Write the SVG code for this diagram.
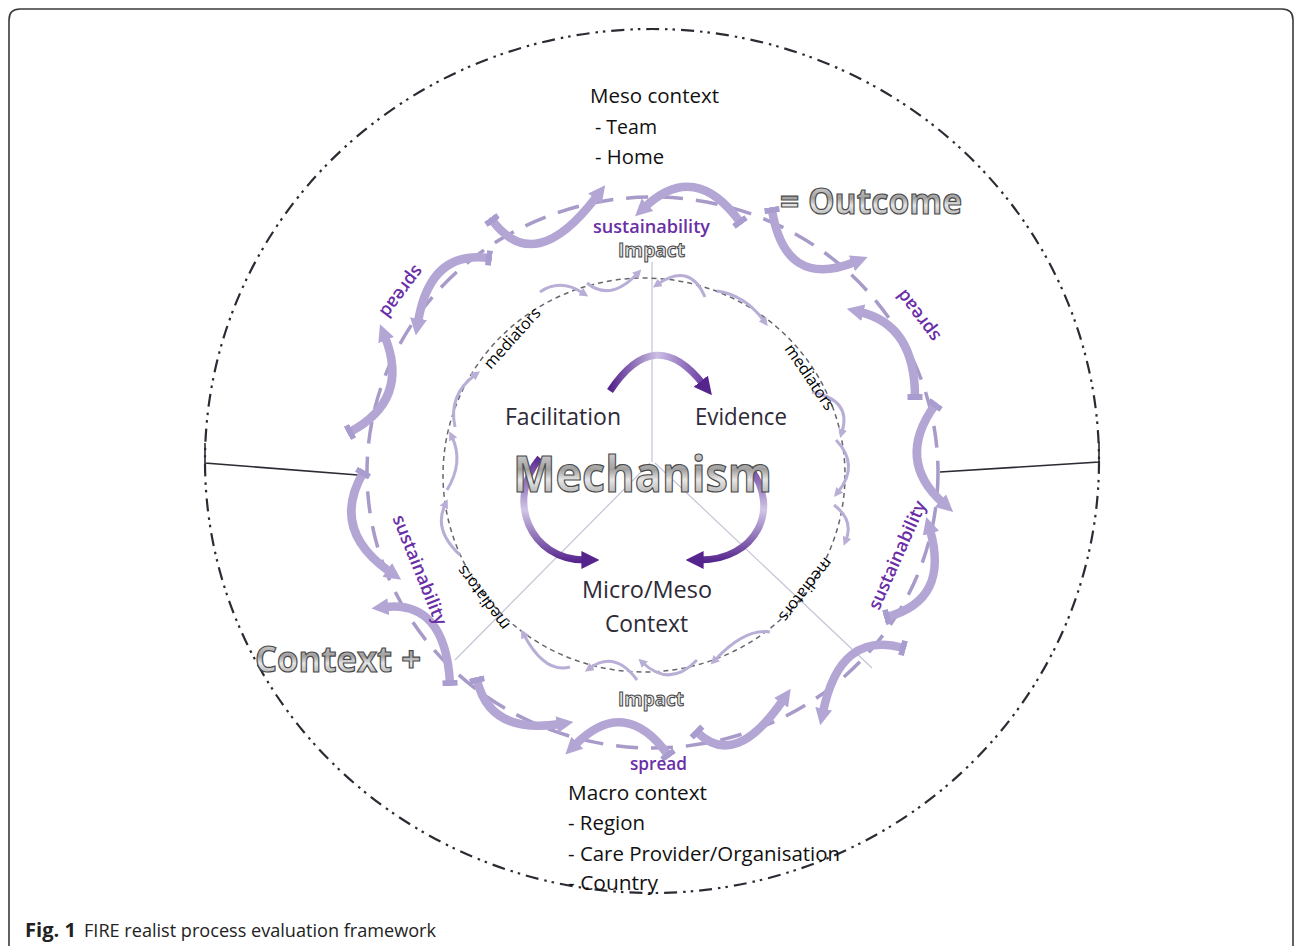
<svg xmlns="http://www.w3.org/2000/svg" width="1295" height="946" viewBox="0 0 1295 946">
<defs>
<style>
.card{fill:#fff;stroke:#3a3a3a;stroke-width:1.6}
.outer{fill:none;stroke:#2b2b33;stroke-width:2.2;stroke-dasharray:13 6 2.5 5 2.5 6}
.bar{stroke:#2b2b33;stroke-width:1.6;fill:none}
.ring{fill:none;stroke:#a89bc9;stroke-width:3.5;stroke-dasharray:22 13}
.inring{fill:none;stroke:#66666e;stroke-width:1.5;stroke-dasharray:5 4}
.big{fill:none;stroke:#b3a6d5;stroke-width:8.5;marker-end:url(#ah);marker-start:url(#tl)}
.small{fill:none;stroke:#b9afd6;stroke-width:3;marker-end:url(#sh)}
.spoke{stroke:#c4c4d6;stroke-width:1.2}
.mech{fill:none;stroke-width:7;marker-end:url(#mh)}
.lbl{font-family:"Open Sans","Noto Sans",sans-serif;fill:#2e2a38;font-size:24px}
.ctx{font-family:"Open Sans","Noto Sans",sans-serif;fill:#111;font-size:20px}
.pur{font-family:"Open Sans","Noto Sans",sans-serif;fill:#6a2ea6;font-weight:600;font-size:18px}
.med{font-family:"Open Sans","Noto Sans",sans-serif;fill:#000;font-size:16px}
.chrome{font-family:"Open Sans","Noto Sans",sans-serif;font-weight:700;fill:url(#chr);stroke:#4a4a4a;stroke-width:1.2}
.imp{font-family:"Open Sans","Noto Sans",sans-serif;font-weight:700;font-size:20px;fill:#e4e4e4;stroke:#444;stroke-width:1}
.cap{font-family:"Open Sans","Noto Sans",sans-serif;fill:#222;font-size:19px}
</style>
<marker id="ah" viewBox="0 0 10 10" refX="2" refY="5" markerWidth="17" markerHeight="17" markerUnits="userSpaceOnUse" orient="auto"><path d="M0,0 L10,5 L0,10 z" fill="#b3a6d5"/></marker>
<marker id="tl" viewBox="0 0 4 10" refX="2" refY="5" markerWidth="6" markerHeight="18" markerUnits="userSpaceOnUse" orient="auto"><rect x="0" y="0" width="4" height="10" fill="#a99cce"/></marker>
<marker id="sh" viewBox="0 0 10 10" refX="3" refY="5" markerWidth="9" markerHeight="9" markerUnits="userSpaceOnUse" orient="auto"><path d="M0,0 L10,5 L0,10 z" fill="#b9afd6"/></marker>
<marker id="mh" viewBox="0 0 10 10" refX="2" refY="5" markerWidth="18" markerHeight="18" markerUnits="userSpaceOnUse" orient="auto"><path d="M0,0 L10,5 L0,10 z" fill="#55248c"/></marker>
<linearGradient id="chr" x1="0" y1="0" x2="0" y2="1"><stop offset="0" stop-color="#f4f4f4"/><stop offset="0.45" stop-color="#a0a0a0"/><stop offset="0.6" stop-color="#e6e6e6"/><stop offset="1" stop-color="#858585"/></linearGradient>
<linearGradient id="gTop" gradientUnits="userSpaceOnUse" x1="610" y1="0" x2="705" y2="0"><stop offset="0" stop-color="#55248c"/><stop offset="0.5" stop-color="#cbbfe4"/><stop offset="1" stop-color="#6a3aa2"/></linearGradient>
<linearGradient id="gSide" gradientUnits="userSpaceOnUse" x1="0" y1="458" x2="0" y2="562"><stop offset="0" stop-color="#5c2a94"/><stop offset="0.5" stop-color="#d0c6e6"/><stop offset="1" stop-color="#55248c"/></linearGradient>
</defs>

<path class="card" d="M9,960 L9,20 Q9,9 20,9 L1282,9 Q1293,9 1293,20 L1293,960"/>

<g id="frame">
<ellipse class="outer" cx="652" cy="461" rx="447" ry="432"/>
<polyline class="bar" points="205,443 205,463 358,475"/>
<polyline class="bar" points="940,472 1099,462 1099,442"/>
</g>

<g id="spokes">
<line class="spoke" x1="652" y1="262" x2="652" y2="462"/>
<line class="spoke" x1="650" y1="463" x2="455" y2="660"/>
<line class="spoke" x1="655" y1="463" x2="872" y2="668"/>
</g>

<g id="rings">
<ellipse class="ring" cx="652.5" cy="472.5" rx="285.5" ry="275.5"/>
<ellipse class="inring" cx="644" cy="475" rx="201" ry="197"/>
</g>

<g id="connectors">
<path class="big" d="M492,220 Q535,278 597,196"/>
<path class="big" d="M489,258 Q430,250 418,322"/>
<path class="big" d="M350,432 Q410,400 385,337"/>
<path class="big" d="M363,473 Q330,530 390,572"/>
<path class="big" d="M450,683 Q445,600 385,607"/>
<path class="big" d="M477,680 Q490,735 560,724"/>
<path class="big" d="M668,755 Q625,695 575,745"/>
<path class="big" d="M697,732 Q735,770 783,700"/>
<path class="big" d="M903,648 Q840,630 823,712"/>
<path class="big" d="M887,617 Q950,600 930,530"/>
<path class="big" d="M935,405 Q895,460 943,503"/>
<path class="big" d="M915,397 Q915,325 860,312"/>
<path class="big" d="M772,210 Q785,290 855,262"/>
<path class="big" d="M740,222 Q695,160 645,207"/>

<path class="small" d="M587,283 Q610,302 637,274"/>
<path class="small" d="M705,297 Q690,262 658,284"/>
<path class="small" d="M717,291 Q745,295 764,321"/>
<path class="small" d="M812,392 Q852,400 842,432"/>
<path class="small" d="M836,440 Q860,465 838,492"/>
<path class="small" d="M834,505 Q854,520 846,540"/>
<path class="small" d="M770,632 Q745,628 715,660"/>
<path class="small" d="M697,660 Q670,688 643,663"/>
<path class="small" d="M637,680 Q615,650 590,668"/>
<path class="small" d="M570,667 Q545,674 524,635"/>
<path class="small" d="M460,555 Q433,530 445,505"/>
<path class="small" d="M447,490 Q464,462 452,437"/>
<path class="small" d="M455,427 Q448,395 475,375"/>
<path class="small" d="M540,292 Q560,278 583,293"/>

<path class="mech" stroke="url(#gTop)" d="M610,391 Q655,323 703,384"/>
<path class="mech" stroke="url(#gSide)" d="M540,458 C505,500 530,560 585,560"/>
<path class="mech" stroke="url(#gSide)" d="M750,468 C782,510 755,560 700,560"/>
</g>

<g id="mechanism">
<text class="chrome" x="513" y="492" font-size="50" textLength="259" lengthAdjust="spacingAndGlyphs">Mechanism</text>
</g>
<g id="facilitation"><text class="lbl" x="505" y="425" textLength="116" lengthAdjust="spacingAndGlyphs">Facilitation</text></g>
<g id="evidence"><text class="lbl" x="695" y="425" textLength="92" lengthAdjust="spacingAndGlyphs">Evidence</text></g>
<g id="micro-meso">
<text class="lbl" x="582" y="598" textLength="130" lengthAdjust="spacingAndGlyphs">Micro/Meso</text>
<text class="lbl" x="605" y="632" textLength="83" lengthAdjust="spacingAndGlyphs">Context</text>
</g>

<g id="meso">
<text class="ctx" x="590" y="103" textLength="129" lengthAdjust="spacingAndGlyphs">Meso context</text>
<text class="ctx" x="595" y="134" textLength="62" lengthAdjust="spacingAndGlyphs">- Team</text>
<text class="ctx" x="595" y="164" textLength="69" lengthAdjust="spacingAndGlyphs">- Home</text>
</g>
<g id="macro">
<text class="ctx" x="568" y="800" textLength="139" lengthAdjust="spacingAndGlyphs">Macro context</text>
<text class="ctx" x="568" y="830" textLength="77" lengthAdjust="spacingAndGlyphs">- Region</text>
<text class="ctx" x="568" y="861" textLength="272" lengthAdjust="spacingAndGlyphs">- Care Provider/Organisation</text>
<text class="ctx" x="568" y="890" textLength="90" lengthAdjust="spacingAndGlyphs">- Country</text>
</g>

<g id="outcome"><text class="chrome" x="780" y="214" font-size="36" textLength="182" lengthAdjust="spacingAndGlyphs">= Outcome</text></g>
<g id="context-plus"><text class="chrome" x="255" y="672" font-size="36" textLength="166" lengthAdjust="spacingAndGlyphs">Context +</text></g>

<g id="impact-top"><text class="imp" x="618" y="257" textLength="67" lengthAdjust="spacingAndGlyphs">Impact</text></g>
<g id="impact-bottom"><text class="imp" x="618" y="706" textLength="66" lengthAdjust="spacingAndGlyphs">Impact</text></g>

<g id="labels">
<text class="pur" x="593" y="233" textLength="117" lengthAdjust="spacingAndGlyphs">sustainability</text>
<text class="pur" x="630" y="770" textLength="57" lengthAdjust="spacingAndGlyphs">spread</text>
<text class="pur" text-anchor="middle" dy="0.35em" transform="translate(402,292) rotate(127)">spread</text>
<text class="pur" text-anchor="middle" dy="0.35em" transform="translate(918,316) rotate(233)">spread</text>
<text class="pur" text-anchor="middle" dy="0.35em" transform="translate(420,570) rotate(68)" textLength="117" lengthAdjust="spacingAndGlyphs">sustainability</text>
<text class="pur" text-anchor="middle" dy="0.35em" transform="translate(897,555) rotate(-66)" textLength="117" lengthAdjust="spacingAndGlyphs">sustainability</text>
<text class="med" text-anchor="middle" dy="0.35em" transform="translate(512,338) rotate(-48)">mediators</text>
<text class="med" text-anchor="middle" dy="0.35em" transform="translate(810,377) rotate(56)">mediators</text>
<text class="med" text-anchor="middle" dy="0.35em" transform="translate(483,598) rotate(233)">mediators</text>
<text class="med" text-anchor="middle" dy="0.35em" transform="translate(806,590) rotate(128)">mediators</text>
</g>

<g id="caption">
<text class="cap" x="25" y="937" font-weight="700" textLength="51" lengthAdjust="spacingAndGlyphs">Fig. 1</text>
<text class="cap" x="84" y="937" textLength="352" lengthAdjust="spacingAndGlyphs">FIRE realist process evaluation framework</text>
</g>
</svg>
